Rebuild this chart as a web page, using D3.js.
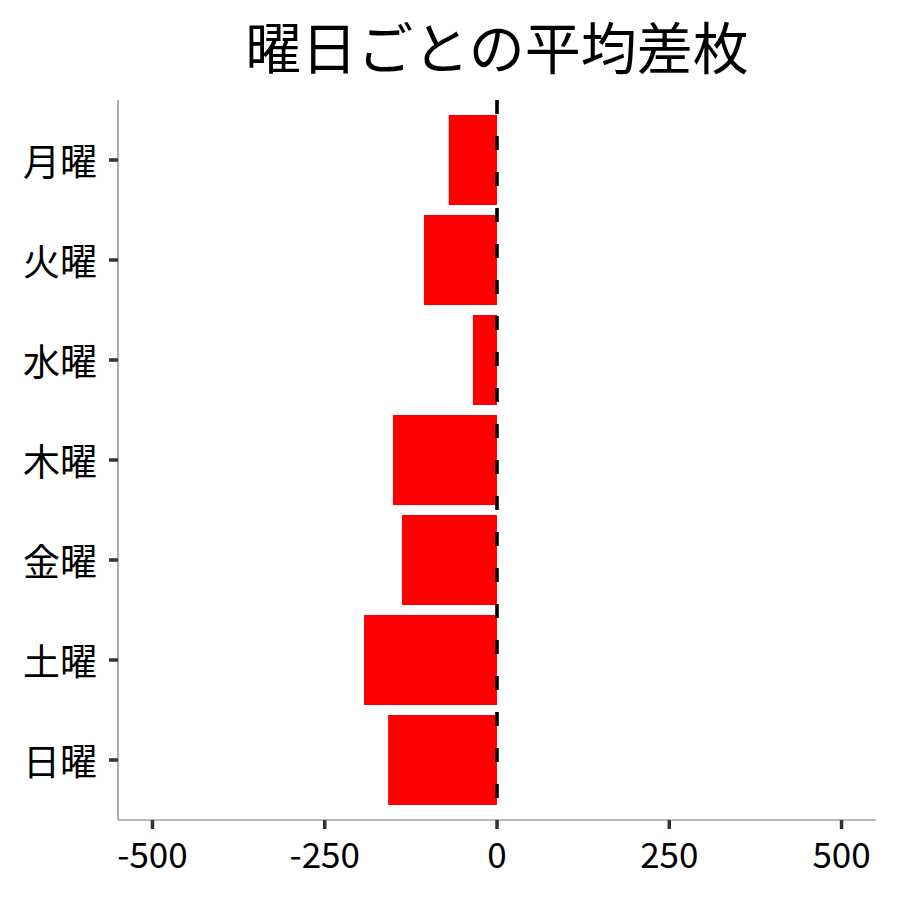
<!DOCTYPE html>
<html>
<head>
<meta charset="utf-8">
<script src="https://cdn.jsdelivr.net/npm/d3@7"></script>
<style>
html,body{margin:0;padding:0;background:#fff;}
svg{display:block;font-family:"Noto Sans CJK JP","Noto Sans",sans-serif;}
</style>
</head>
<body>
<svg id="chart" width="900" height="900"></svg>
<script>
const titleText = "曜日ごとの平均差枚";
const days = ["月曜","火曜","水曜","木曜","金曜","土曜","日曜"];
const avgDiff = [-70, -106, -35, -151, -138, -193, -158];
const xTicks = [-500, -250, 0, 250, 500];
const xDomain = [-550, 550];

const svg = d3.select("#chart");
const panel = {left:118, right:876, top:100, bottom:820};

const x = d3.scaleLinear().domain(xDomain).range([panel.left, panel.right]);
const y = d3.scaleBand().domain(days).range([panel.top, panel.bottom]).paddingInner(0.1).paddingOuter(0.15);

const data = days.map((d,i)=>({day:d, value:avgDiff[i]}));

// bars
svg.append("g").selectAll("rect").data(data).join("rect")
  .attr("x", d => x(Math.min(0,d.value)))
  .attr("width", d => Math.abs(x(d.value)-x(0)))
  .attr("y", d => y(d.day))
  .attr("height", y.bandwidth())
  .attr("fill", "#ff0000");

// dashed zero line
svg.append("line")
  .attr("x1", x(0)).attr("x2", x(0))
  .attr("y1", panel.top).attr("y2", panel.bottom)
  .attr("stroke", "#000").attr("stroke-width", 3.6)
  .attr("stroke-dasharray", "14,22");

// axis lines
svg.append("line").attr("x1", panel.left).attr("x2", panel.left)
  .attr("y1", panel.top).attr("y2", panel.bottom)
  .attr("stroke", "#777").attr("stroke-width", 1.2);
svg.append("line").attr("x1", panel.left).attr("x2", panel.right)
  .attr("y1", panel.bottom).attr("y2", panel.bottom)
  .attr("stroke", "#777").attr("stroke-width", 1.2);

// y ticks & labels
const yg = svg.append("g");
days.forEach(d => {
  const cy = y(d) + y.bandwidth()/2;
  yg.append("line").attr("x1", panel.left-9).attr("x2", panel.left)
    .attr("y1", cy).attr("y2", cy).attr("stroke", "#333").attr("stroke-width", 3.5);
  yg.append("text").attr("x", 97).attr("y", cy)
    .attr("text-anchor", "end").attr("dominant-baseline", "central")
    .attr("font-size", 37).attr("fill", "#000").text(d);
});

// x ticks & labels
const xg = svg.append("g");
xTicks.forEach(t => {
  xg.append("line").attr("x1", x(t)).attr("x2", x(t))
    .attr("y1", panel.bottom).attr("y2", panel.bottom+9)
    .attr("stroke", "#333").attr("stroke-width", 3.5);
  xg.append("text").attr("x", x(t)).attr("y", 868)
    .attr("text-anchor", "middle")
    .attr("font-size", 35).attr("fill", "#000").text(t);
});

// title
svg.append("text").attr("x", (panel.left+panel.right)/2).attr("y", 44)
  .attr("text-anchor", "middle").attr("dominant-baseline", "central")
  .attr("font-size", 56).attr("fill", "#000").text(titleText);
</script>
</body>
</html>
